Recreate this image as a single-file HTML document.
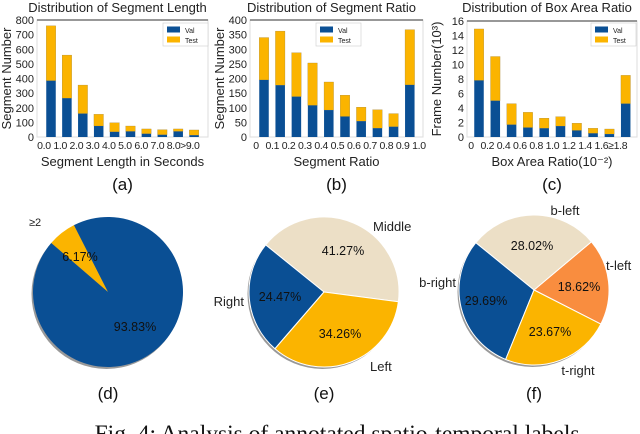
<!DOCTYPE html>
<html><head><meta charset="utf-8"><style>
body{margin:0;background:#fff;}
svg{display:block;font-family:"Liberation Sans","DejaVu Sans",sans-serif;}
</style></head><body>
<svg id="s" width="640" height="434" viewBox="0 0 640 434"></svg>
<script>
const catsA = ["0.0","1.0","2.0","3.0","4.0","5.0","6.0","7.0","8.0",">9.0"];
const valA = [385,265,160,75,35,38,22,15,38,12];
const totA = [760,560,355,155,97,75,55,50,55,48];
const yTicksA = [0,100,200,300,400,500,600,700,800];
const catsB = ["0","0.1","0.2","0.3","0.4","0.5","0.6","0.7","0.8","0.9","1.0"];
const valB = [195,177,138,108,92,70,54,30,35,178];
const totB = [340,362,288,253,188,143,102,93,80,367];
const yTicksB = [0,50,100,150,200,250,300,350,400];
const catsC = ["0","0.2","0.4","0.6","0.8","1.0","1.2","1.4","1.6","≥1.8"];
const valC = [7.8,5.0,1.7,1.3,1.2,1.5,0.9,0.5,0.4,4.6];
const totC = [14.9,11.1,4.6,3.4,2.6,2.8,1.9,1.2,1.1,8.5];
const yTicksC = [0,2,4,6,8,10,12,14,16];
const pieDLabels = ["≥2","1"];
const pieDValues = [6.17,93.83];
const pieELabels = ["Middle","Right","Left"];
const pieEValues = [41.27,24.47,34.26];
const pieFLabels = ["t-left","b-left","b-right","t-right"];
const pieFValues = [18.62,28.02,29.69,23.67];

const NS="http://www.w3.org/2000/svg";
const svg=document.getElementById('s');
function mk(tag,attrs,parent){const e=document.createElementNS(NS,tag);for(const k in attrs)e.setAttribute(k,attrs[k]);(parent||svg).appendChild(e);return e;}
function txt(str,x,y,size,anchor,parent,extra){const t=mk('text',Object.assign({x:x,y:y,'font-size':size,'text-anchor':anchor||'middle',fill:'#111'},extra||{}),parent);t.textContent=str;return t;}
const BLUE="#0a4f94",YEL="#fbb400",BEIGE="#ecdfc6",ORG="#f98d3f";

function bar(id,x0,x1,yTop,yBot,ymax,vals,tots,cats,ticks,title,xtitle,ytitle,cap,legX,legLabels,labelStart,labelStep,firstC,stepC){
  const g=mk('g',{});
  
  
  const ys=v=>yBot-(v/ymax)*(yBot-yTop);
  mk('rect',{x:x0,y:yTop,width:x1-x0,height:yBot-yTop,fill:'none',stroke:'#ddd','stroke-width':1},g);
  mk('line',{x1:x0,y1:yTop,x2:x1,y2:yTop,stroke:'#777','stroke-width':1.5},g);
  const bw=9.5;
  for(let i=0;i<vals.length;i++){
    const cx=firstC+i*stepC;
    const rt=mk('rect',{x:cx-bw/2,y:ys(tots[i]),width:bw,height:ys(vals[i])-ys(tots[i]),fill:YEL,stroke:'#a08030','stroke-width':0.3},g);
    
    
    const rv=mk('rect',{x:cx-bw/2,y:ys(vals[i]),width:bw,height:yBot-ys(vals[i]),fill:BLUE},g);
    
    
  }
  ticks.forEach(t=>{txt(String(t),x0-3,ys(t)+4,11,'end',g,{fill:'#222'});});
  cats.forEach((c,i)=>{txt(c,labelStart+i*labelStep,149,10.5,'middle',g,{fill:'#222','letter-spacing':'-0.3'});});
  txt(title,(x0+x1)/2-5,12,13,'middle',g,{fill:'#222'});
  txt(xtitle,(x0+x1)/2,166,13,'middle',g,{fill:'#222'});
  txt(ytitle,0,0,13,'middle',g,{fill:'#222',transform:`translate(${x0-26},${(yTop+yBot)/2}) rotate(-90)`});
  txt(cap,(x0+x1)/2,190,17,'middle',g,{fill:'#111'});
  const lg=mk('g',{},g);
  
  
  mk('rect',{x:legX,y:23,width:45,height:23,fill:'#fff',stroke:'#ccc','stroke-width':0.6},lg);
  mk('rect',{x:legX+4,y:26.5,width:13,height:6,fill:BLUE},lg);
  mk('rect',{x:legX+4,y:36.5,width:13,height:6,fill:YEL},lg);
  txt(legLabels[0],legX+22,33,7,'start',lg,{fill:'#222'});
  txt(legLabels[1],legX+22,43,7,'start',lg,{fill:'#222'});
}
bar('chart-segment-length',37,208,20,137,800,valA,totA,catsA,yTicksA,'Distribution of Segment Length','Segment Length in Seconds','Segment Number','(a)',163,['Val','Test'],44,16.2,51,15.9);
bar('chart-segment-ratio',250,423,20,137,400,valB,totB,catsB,yTicksB,'Distribution of Segment Ratio','Segment Ratio','Segment Number','(b)',316,['Val','Test'],256,16.3,264,16.2);
bar('chart-box-area-ratio',467,637,21,137,16,valC,totC,catsC,yTicksC,'Distribution of Box Area Ratio','Box Area Ratio(10⁻²)','Frame Number(10³)','(c)',591,['Val','Test'],471,16.3,479,16.3);

function pie(id,cx,cy,r,startDeg,vals,colors,edge,name){
  const g=mk('g',{});
  
  
  mk('circle',{cx:cx-1.5,cy:cy+2,r:r,fill:'#999'},g);
  let a=startDeg;const tot=vals.reduce((s,v)=>s+v,0);
  vals.forEach((v,i)=>{
    const a2=a+v/tot*360;
    const p=d=>[cx+r*Math.cos(d*Math.PI/180),cy-r*Math.sin(d*Math.PI/180)];
    const [x1,y1]=p(a),[x2,y2]=p(a2);
    const large=(a2-a)>180?1:0;
    const s=mk('path',{d:`M${cx},${cy}L${x1},${y1}A${r},${r} 0 ${large} 0 ${x2},${y2}Z`,fill:colors[i],stroke:edge,'stroke-width':edge==='none'?0:1},g);
    
    
    a=a2;
  });
  return g;
}
const gd=pie('pie-d',108,292,75,117,pieDValues,[YEL,BLUE],'none','pie-d');
txt(pieDLabels[0],29,226,11,'start',gd,{fill:'#222'});
txt(pieDValues[0].toFixed(2)+'%',80,261,12.5,'middle',gd);
txt(pieDValues[1].toFixed(2)+'%',135,331,12.5,'middle',gd);
txt('(d)',108,399,17,'middle',gd);

const ge=pie('pie-e',324,292,75,-7.5,pieEValues,[BEIGE,BLUE,YEL],'#fff','pie-e');
txt(pieELabels[0],373,231,13,'start',ge,{fill:'#222'});
txt(pieEValues[0].toFixed(2)+'%',343,255,12.5,'middle',ge);
txt(pieELabels[1],244,306,13,'end',ge,{fill:'#222'});
txt(pieEValues[1].toFixed(2)+'%',280,301,12.5,'middle',ge);
txt(pieELabels[2],370,371,13,'start',ge,{fill:'#222'});
txt(pieEValues[2].toFixed(2)+'%',340,338,12.5,'middle',ge);
txt('(e)',324,399,17,'middle',ge);

const gf=pie('pie-f',534,290,75,-27,pieFValues,[ORG,BEIGE,BLUE,YEL],'#fff','pie-f');
txt(pieFLabels[0],606,270,13,'start',gf,{fill:'#222'});
txt(pieFValues[0].toFixed(2)+'%',579,291,12.5,'middle',gf);
txt(pieFLabels[1],565,215,13,'middle',gf,{fill:'#222'});
txt(pieFValues[1].toFixed(2)+'%',532,250,12.5,'middle',gf);
txt(pieFLabels[2],456,287,13,'end',gf,{fill:'#222'});
txt(pieFValues[2].toFixed(2)+'%',486,305,12.5,'middle',gf);
txt(pieFLabels[3],578,375,13,'middle',gf,{fill:'#222'});
txt(pieFValues[3].toFixed(2)+'%',550,336,12.5,'middle',gf);
txt('(f)',534,399,17,'middle',gf);

const cap=txt('Fig. 4: Analysis of annotated spatio-temporal labels.',340,441,23.5,'middle',null,{'font-family':'Liberation Serif, serif'});


</script>
</body></html>
